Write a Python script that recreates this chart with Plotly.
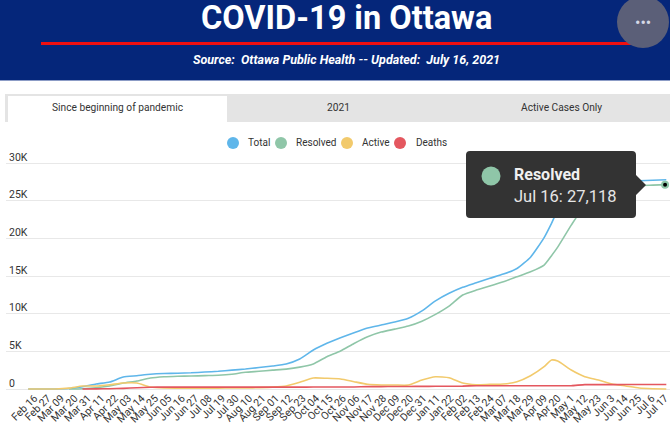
import pandas as pd
import plotly.graph_objects as go

W, H = 670, 427

# labels under the x axis, one every 11 days from 2020-02-16
tick_labels = ["Feb 16", "Feb 27", "Mar 09", "Mar 20", "Mar 31", "Apr 11", "Apr 22", "May 03",
               "May 14", "May 25", "Jun 05", "Jun 16", "Jun 27", "Jul 08", "Jul 19", "Jul 30",
               "Aug 10", "Aug 21", "Sep 01", "Sep 12", "Sep 23", "Oct 04", "Oct 15", "Oct 26",
               "Nov 06", "Nov 17", "Nov 28", "Dec 09", "Dec 20", "Dec 31", "Jan 11", "Jan 22",
               "Feb 02", "Feb 13", "Feb 24", "Mar 07", "Mar 18", "Mar 29", "Apr 09", "Apr 20",
               "May 1", "May 12", "May 23", "Jun 3", "Jun 14", "Jun 25", "Jul 6", "Jul 17"]

dates = ["2020-02-16", "2020-02-27", "2020-03-09", "2020-03-20", "2020-03-31", "2020-04-11",
         "2020-04-22", "2020-05-03", "2020-05-14", "2020-05-25", "2020-06-05", "2020-06-16",
         "2020-06-27", "2020-07-08", "2020-07-19", "2020-07-30", "2020-08-10", "2020-08-21",
         "2020-09-01", "2020-09-12", "2020-09-23", "2020-10-04", "2020-10-15", "2020-10-26",
         "2020-11-06", "2020-11-17", "2020-11-28", "2020-12-09", "2020-12-20", "2020-12-31",
         "2021-01-11", "2021-01-22", "2021-02-02", "2021-02-13", "2021-02-24", "2021-03-07",
         "2021-03-18", "2021-03-29", "2021-04-09", "2021-04-15", "2021-04-20", "2021-05-01",
         "2021-05-12", "2021-05-23", "2021-06-03", "2021-06-14", "2021-06-25", "2021-07-06",
         "2021-07-17"]

total = [0, 0, 0, 60, 300, 660, 930, 1590, 1760, 1950, 2050, 2100, 2150, 2250, 2350, 2500, 2650,
         2850, 3050, 3320, 3980, 5170, 6060, 6800, 7470, 8090, 8490, 8890, 9400, 10380, 11700,
         12700, 13500, 14100, 14700, 15250, 16000, 17500, 20100, 22000, 23700, 25500, 26800,
         27300, 27450, 27600, 27650, 27720, 27780]
resolved = [None, None, None, 0, 40, 170, 400, 800, 1060, 1460, 1630, 1700, 1720, 1780, 1830, 1960,
            2220, 2350, 2500, 2640, 2900, 3330, 4290, 5040, 6050, 6940, 7560, 7950, 8360, 9000,
            9900, 11000, 12470, 13130, 13660, 14230, 14900, 15560, 16450, 17700, 18830, 21750,
            24400, 25730, 26400, 26800, 27000, 27060, 27130]
active = [0, 0, 0, 120, 400, 400, 570, 800, 800, 260, 130, 110, 100, 100, 120, 130, 130, 180, 250,
          400, 890, 1460, 1420, 1330, 970, 620, 530, 530, 530, 1190, 1630, 1500, 790, 570, 620,
          660, 970, 1760, 2960, 3850, 3710, 2520, 1630, 1190, 660, 400, 130, 40, 0]
deaths = [None, None, None, None, 0, 20, 40, 90, 170, 240, 250, 250, 250, 250, 250, 250, 250, 250,
          250, 250, 250, 260, 260, 270, 270, 320, 320, 330, 340, 350, 360, 370, 380, 440, 440, 440,
          440, 440, 440, 440, 440, 440, 580, 580, 580, 590, 590, 590, 590]

hover_date = "2021-07-16"
hover_value = 27118

y_ticks = [0, 5000, 10000, 15000, 20000, 25000, 30000]
y_labels = ["0", "5K", "10K", "15K", "20K", "25K", "30K"]

BLUE = "#5fb6ea"
GREEN = "#8fc6a8"
YELLOW = "#f2ca6c"
RED = "#e4575f"
NAVY = "#05267a"
FONT = "Roboto"


def px(x):
    return x / W


def py(y):
    return 1 - y / H


def box(x0, y0, x1, y1, color, **kw):
    return dict(type="rect", xref="paper", yref="paper", x0=px(x0), x1=px(x1), y0=py(y0), y1=py(y1),
                fillcolor=color, line_width=0, **kw)


def dot(cx, cy, r, color, **kw):
    return dict(type="circle", xref="paper", yref="paper", x0=px(cx - r), x1=px(cx + r),
                y0=py(cy + r), y1=py(cy - r), fillcolor=color, line_width=0, **kw)


def label(x, y, text, size, color="#333333", xanchor="center"):
    return dict(xref="paper", yref="paper", x=px(x), y=py(y), text=text, showarrow=False,
                xanchor=xanchor, yanchor="middle",
                font=dict(family=FONT, size=size, color=color))


fig = go.Figure()

# The curves
for name, values, color in [("Total", total, BLUE), ("Resolved", resolved, GREEN),
                            ("Active", active, YELLOW), ("Deaths", deaths, RED)]:
    fig.add_trace(go.Scatter(x=dates, y=values, mode="lines", name=name, showlegend=False,
                             line=dict(color=color, width=1.6, shape="spline", smoothing=0.5)))

# Highlighted point
fig.add_trace(go.Scatter(x=[hover_date], y=[hover_value], mode="markers", showlegend=False,
                         marker=dict(color="black", size=6, line=dict(color=GREEN, width=2))))

# Tooltip body with rounded corners and the little arrow
tooltip_path = (
    f"M {px(470)},{py(151)} L {px(632)},{py(151)} Q {px(636)},{py(151)} {px(636)},{py(155)} "
    f"L {px(636)},{py(175)} L {px(646)},{py(185)} L {px(636)},{py(195)} L {px(636)},{py(214)} "
    f"Q {px(636)},{py(218)} {px(632)},{py(218)} L {px(470)},{py(218)} "
    f"Q {px(466)},{py(218)} {px(466)},{py(214)} L {px(466)},{py(155)} "
    f"Q {px(466)},{py(151)} {px(470)},{py(151)} Z"
)

shapes = [
    box(0, 0, 670, 80, NAVY),
    box(0, 80, 670, 81, "#8c9cc6"),
    box(41, 42, 638, 45, "#f01010"),
    dot(643, 22, 26, "#5b5f78"),
    box(5, 94, 670, 122, "#e4e4e4"),
    box(8, 96, 227, 122, "white"),
    dot(233, 143, 6, BLUE),
    dot(281, 143, 6, GREEN),
    dot(347, 143, 6, YELLOW),
    dot(400, 143, 6, RED),
    dict(type="path", xref="paper", yref="paper", path=tooltip_path, fillcolor="#333333",
         line_width=0, layer="above"),
    dot(491, 176, 9.5, GREEN, layer="above"),
]

annotations = [
    label(346, 18, "<b>COVID-19 in Ottawa</b>", 32.5, "white"),
    label(346, 60, "<b><i>Source:  Ottawa Public Health -- Updated:  July 16, 2021</i></b>", 12.5, "white"),
    label(643, 22, "•••", 16, "#d5d8e6"),
    label(118, 107, "Since beginning of pandemic", 10.2),
    label(339, 107, "2021", 10.2),
    label(561, 107, "Active Cases Only", 10.2),
    label(246, 143, "Total", 10, xanchor="left"),
    label(294, 143, "Resolved", 10, xanchor="left"),
    label(360, 143, "Active", 10, xanchor="left"),
    label(414, 143, "Deaths", 10, xanchor="left"),
    label(512, 174, "<b>Resolved</b>", 16, "#f0f0f0", xanchor="left"),
    label(512, 196, "Jul 16: 27,118", 16.5, "#e6e6e6", xanchor="left"),
]

fig.update_layout(
    width=W, height=H,
    margin=dict(l=0, r=0, t=0, b=0, autoexpand=False),
    paper_bgcolor="white",
    plot_bgcolor="white",
    font=dict(family=FONT, size=10, color="#333333"),
    hovermode=False,
    showlegend=False,
    shapes=shapes,
    annotations=annotations,
    xaxis=dict(
        domain=[px(6), 1],
        type="date",
        range=["2020-01-29", "2021-07-20"],
        anchor="free",
        position=py(389),
        tickmode="array",
        # the reference spaces its labels a little tighter than the data, starting a bit right of it
        tickvals=pd.date_range("2020-02-21", "2021-07-16", periods=len(tick_labels)),
        ticktext=tick_labels,
        tickangle=-45,
        ticklabeloverflow="allow",
        tickfont=dict(family=FONT, size=10.5, color="#333333"),
        showgrid=False,
        zeroline=False,
        showline=False,
    ),
    yaxis=dict(
        domain=[py(395), py(150)],
        # range runs past 0 and 30K so the labels sitting above the grid lines have room
        range=[-796, 31726],
        tickmode="array",
        tickvals=y_ticks,
        ticktext=y_labels,
        ticklabelposition="inside",
        ticklabelshift=-6,
        tickfont=dict(family=FONT, size=10.5, color="#333333"),
        showgrid=True,
        gridcolor="#e8e8e8",
        gridwidth=1.2,
        zeroline=False,
        showline=False,
    ),
)

# the reference has no page margin around the chart and no toolbar
fig.write_html("out.html", config=dict(displayModeBar=False),
               post_script="document.body.style.margin='0';")
